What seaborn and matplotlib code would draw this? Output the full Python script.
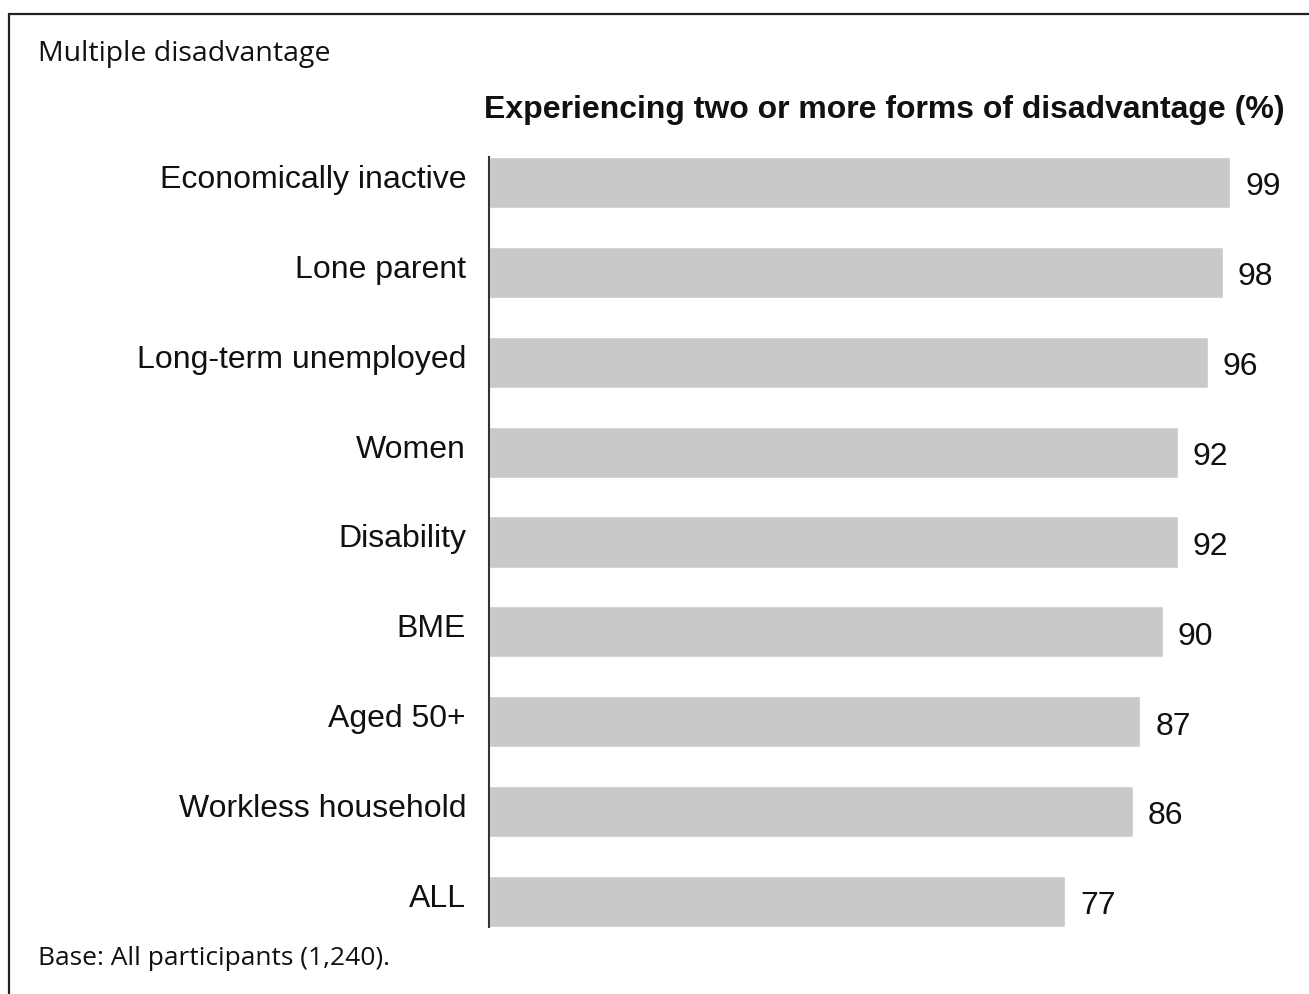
import matplotlib
matplotlib.use('Agg')
import matplotlib.pyplot as plt
import matplotlib.transforms as mtransforms
from matplotlib.lines import Line2D
import pandas as pd
import seaborn as sns

# chart data
groups = ['Economically inactive', 'Lone parent', 'Long-term unemployed', 'Women',
          'Disability', 'BME', 'Aged 50+', 'Workless household', 'ALL']
share = [99, 98, 96, 92, 92, 90, 87, 86, 77]

df = pd.DataFrame({'Group': groups, 'Share': share})

sns.set_style('white')
plt.rcParams['font.family'] = ['Liberation Sans', 'DejaVu Sans']

W, H = 1309, 994
fig = plt.figure(figsize=(W / 100, H / 100), dpi=100)
ax = fig.add_axes([489 / W, 1 - 927 / H, (1237.5 - 489) / W, (927 - 157) / H])

sns.barplot(data=df, x='Share', y='Group', orient='h', color='#C8C9CA',
            width=0.57, saturation=1, ax=ax)

ax.set_xlim(0, 100)
ax.set_ylim(len(groups) - 1 + 0.285, -0.285)
ax.set_xlabel('')
ax.set_ylabel('')
ax.set_xticks([])
ax.tick_params(axis='y', length=0, pad=16.5, labelsize=23, labelcolor='#111111')
# category labels sit a little above the bar centres
shift = mtransforms.ScaledTranslation(0, 6 / 100, fig.dpi_scale_trans)
for lab in ax.get_yticklabels():
    lab.set_transform(lab.get_transform() + shift)
for s in ['top', 'right', 'bottom']:
    ax.spines[s].set_visible(False)
ax.spines['left'].set_color('#333333')
ax.spines['left'].set_linewidth(1.5)

# value labels
for i, v in enumerate(share):
    ax.annotate(str(v), (v, i), xytext=(11, -1), textcoords='offset points',
                ha='left', va='center_baseline', fontsize=23, color='#111111')

# titles and note
fig.text(484 / W, 1 - 118 / H, 'Experiencing two or more forms of disadvantage (%)',
         ha='left', va='baseline', fontsize=23, fontweight='bold', color='#111111')
fig.text(38 / W, 1 - 61 / H, 'Multiple disadvantage', ha='left', va='baseline',
         fontsize=20.5, family=['Open Sans', 'DejaVu Sans'], color='#111111')
fig.text(38 / W, 1 - 965 / H, 'Base: All participants (1,240).', ha='left', va='baseline',
         fontsize=19, family=['Open Sans', 'DejaVu Sans'], color='#111111')

# frame
fig.add_artist(Line2D([9 / W, 1], [1 - 14 / H, 1 - 14 / H], color='#222222', lw=1.6))
fig.add_artist(Line2D([9 / W, 9 / W], [0, 1 - 14 / H], color='#222222', lw=1.6))

fig.savefig('out.png', dpi=100, facecolor='white')
